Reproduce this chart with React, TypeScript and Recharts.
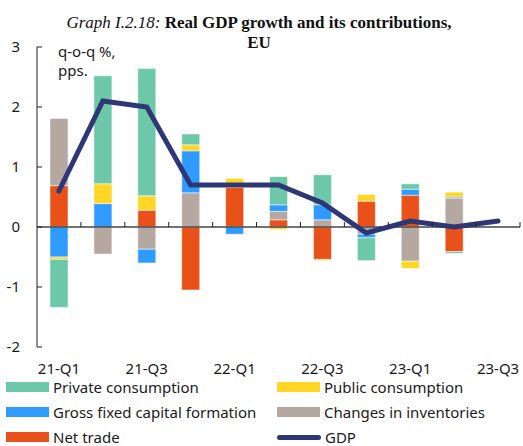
import React from 'react';
import {
  ComposedChart,
  Bar,
  Line,
  XAxis,
  YAxis,
  ReferenceLine,
} from 'recharts';

const quarters = ['21-Q1', '21-Q2', '21-Q3', '21-Q4', '22-Q1', '22-Q2', '22-Q3', '22-Q4', '23-Q1', '23-Q2', '23-Q3'];
const privateConsumption = [-0.8, 1.8, 2.12, 0.18, 0, 0.47, 0.5, -0.38, 0.09, -0.03, null];
const publicConsumption = [-0.04, 0.33, 0.24, 0.1, 0.15, -0.04, -0.02, 0.11, -0.12, 0.08, null];
const gfcf = [-0.5, 0.39, -0.23, 0.7, -0.12, 0.11, 0.25, -0.06, 0.1, 0.02, null];
const inventories = [1.12, -0.45, -0.37, 0.57, 0, 0.14, 0.12, -0.12, -0.57, 0.48, null];
const netTrade = [0.69, 0, 0.28, -1.05, 0.66, 0.12, -0.54, 0.43, 0.53, -0.41, null];
const gdp = [0.6, 2.1, 2.0, 0.7, 0.7, 0.7, 0.4, -0.1, 0.1, 0.0, 0.1];
const yTicks = [-2, -1, 0, 1, 2, 3];

const data = quarters.map((q, i) => ({
  name: q,
  priv: privateConsumption[i],
  pub: publicConsumption[i],
  gfcf: gfcf[i],
  inv: inventories[i],
  net: netTrade[i],
  gdp: gdp[i],
}));

const COLORS = {
  priv: '#6CC8A8',
  pub: '#FFD624',
  gfcf: '#2F9BFF',
  inv: '#B5A8A0',
  net: '#E85119',
  gdp: '#2E3776',
};

const FONT = '"Noto Sans", sans-serif';
const W = 523;
const H = 380;
const TOP = 47;
const BOTTOM = 347;
const Y_MIN = -2;
const Y_MAX = 3;
const zeroY = TOP + ((BOTTOM - TOP) * Y_MAX) / (Y_MAX - Y_MIN);

const YTick = (props: any) => {
  const { x, y, payload } = props;
  return (
    <g>
      <line x1={x} y1={y} x2={x + 5} y2={y} stroke="#222" strokeWidth={1} />
      <text x={20} y={y + 5} textAnchor="end" fontFamily={FONT} fontSize={15} fill="#1a1a1a">
        {payload.value}
      </text>
    </g>
  );
};

const XTick = (props: any) => {
  const { x, y, payload, index } = props;
  const off = payload.offset ?? 22;
  return (
    <g>
      <line x1={x + off} y1={zeroY} x2={x + off} y2={zeroY - 5} stroke="#222" strokeWidth={1} />
      {index % 2 === 0 && (
        <text x={x} y={y + 27} textAnchor="middle" fontFamily={FONT} fontSize={15} fill="#1a1a1a">
          {payload.value}
        </text>
      )}
    </g>
  );
};

const legendItems = [
  { label: 'Private consumption', color: COLORS.priv, line: false },
  { label: 'Public consumption', color: COLORS.pub, line: false },
  { label: 'Gross fixed capital formation', color: COLORS.gfcf, line: false },
  { label: 'Changes in inventories', color: COLORS.inv, line: false },
  { label: 'Net trade', color: COLORS.net, line: false },
  { label: 'GDP', color: COLORS.gdp, line: true },
];

const App = () => {
  return (
    <div style={{ position: 'absolute', left: 0, top: 0, width: W, height: 446, background: '#fff', overflow: 'hidden' }}>
      <div
        style={{
          position: 'absolute',
          left: 0,
          top: 13,
          width: 518,
          textAlign: 'center',
          fontFamily: '"Liberation Serif", serif',
          fontSize: 17,
          lineHeight: '20px',
          color: '#111',
          zIndex: 2,
        }}
      >
        <i>Graph I.2.18:</i> <b>Real GDP growth and its contributions,</b>
        <br />
        <b>EU</b>
      </div>
      <ComposedChart
        width={W}
        height={H}
        data={data}
        stackOffset="sign"
        margin={{ top: TOP, right: 3, bottom: 3, left: 0 }}
        barSize={18}
      >
        <XAxis
          dataKey="name"
          height={30}
          interval={0}
          axisLine={false}
          tickLine={false}
          tickSize={0}
          tickMargin={0}
          tick={<XTick />}
        />
        <YAxis
          width={37}
          domain={[Y_MIN, Y_MAX]}
          ticks={yTicks}
          interval={0}
          axisLine={{ stroke: '#222' }}
          tickLine={false}
          tickSize={0}
          tickMargin={0}
          tick={<YTick />}
        />
        <Bar dataKey="net" stackId="a" fill={COLORS.net} stroke="#fff" strokeWidth={0.5} isAnimationActive={false} />
        <Bar dataKey="inv" stackId="a" fill={COLORS.inv} stroke="#fff" strokeWidth={0.5} isAnimationActive={false} />
        <Bar dataKey="gfcf" stackId="a" fill={COLORS.gfcf} stroke="#fff" strokeWidth={0.5} isAnimationActive={false} />
        <Bar dataKey="pub" stackId="a" fill={COLORS.pub} stroke="#fff" strokeWidth={0.5} isAnimationActive={false} />
        <Bar dataKey="priv" stackId="a" fill={COLORS.priv} stroke="#fff" strokeWidth={0.5} isAnimationActive={false} />
        <ReferenceLine y={0} stroke="#444" strokeWidth={1.5} />
        <Line
          dataKey="gdp"
          type="linear"
          stroke={COLORS.gdp}
          strokeWidth={5}
          dot={false}
          strokeLinecap="round"
          isAnimationActive={false}
        />
      </ComposedChart>
      <div
        style={{
          position: 'absolute',
          left: 58,
          top: 42,
          fontFamily: FONT,
          fontSize: 15,
          lineHeight: '19px',
          color: '#1a1a1a',
        }}
      >
        q-o-q %,
        <br />
        pps.
      </div>
      {legendItems.map((item, i) => {
        const col = i % 2;
        const row = Math.floor(i / 2);
        const left = col === 0 ? 6 : 277;
        const cy = 387 + row * 25;
        return (
          <div
            key={item.label}
            style={{
              position: 'absolute',
              left,
              top: cy - 8,
              height: 16,
              lineHeight: '16px',
              display: 'flex',
              alignItems: 'center',
              fontFamily: FONT,
              fontSize: 15,
              color: '#1a1a1a',
              whiteSpace: 'nowrap',
            }}
          >
            <span
              style={{
                display: 'inline-block',
                width: item.line ? 44 : 43,
                height: item.line ? 5 : 10,
                borderRadius: item.line ? 3 : 0,
                background: item.color,
                marginRight: 4,
              }}
            />
            {item.label}
          </div>
        );
      })}
    </div>
  );
};

export default App;
